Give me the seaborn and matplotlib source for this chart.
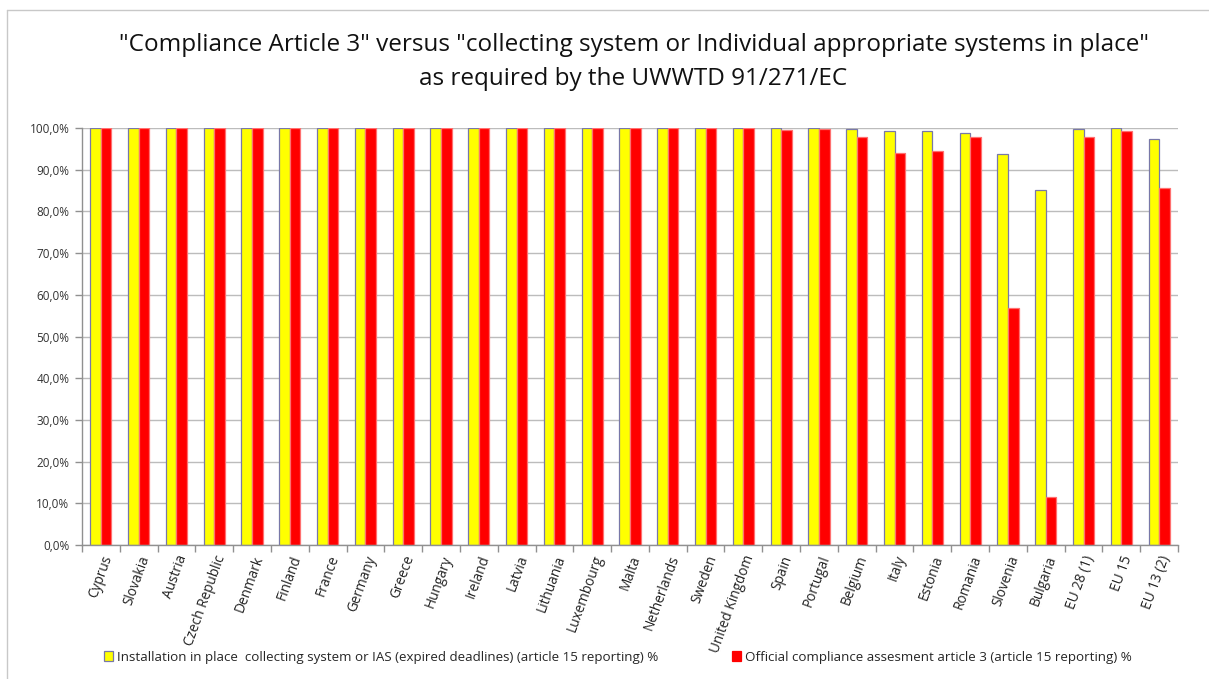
import matplotlib
matplotlib.use("Agg")
import matplotlib.pyplot as plt
from matplotlib.lines import Line2D
from matplotlib.ticker import FuncFormatter, FixedLocator
import seaborn as sns
import pandas as pd
import numpy as np

countries = ["Cyprus", "Slovakia", "Austria", "Czech Republic", "Denmark", "Finland",
             "France", "Germany", "Greece", "Hungary", "Ireland", "Latvia", "Lithuania",
             "Luxembourg", "Malta", "Netherlands", "Sweden", "United Kingdom", "Spain",
             "Portugal", "Belgium", "Italy", "Estonia", "Romania", "Slovenia", "Bulgaria",
             "EU 28 (1)", "EU 15", "EU 13 (2)"]

installation = [100.0, 100.0, 100.0, 100.0, 100.0, 100.0, 100.0, 100.0, 100.0, 100.0,
                100.0, 100.0, 100.0, 100.0, 100.0, 100.0, 100.0, 100.0, 100.0, 100.0,
                99.8, 99.4, 99.2, 98.7, 93.8, 85.2, 99.7, 100.0, 97.4]

compliance = [100.0, 100.0, 100.0, 100.0, 100.0, 100.0, 100.0, 100.0, 100.0, 100.0,
              100.0, 100.0, 100.0, 100.0, 100.0, 100.0, 100.0, 100.0, 99.6, 99.8,
              97.9, 94.0, 94.4, 97.9, 56.8, 11.6, 97.9, 99.2, 85.7]

series_names = ["Installation in place  collecting system or IAS (expired deadlines) (article 15 reporting) %",
                "Official compliance assesment article 3 (article 15 reporting) %"]

title = ('"Compliance Article 3" versus "collecting system or Individual appropriate systems in place"\n'
         'as required by the UWWTD 91/271/EC')

df = pd.DataFrame({"country": countries,
                   series_names[0]: installation,
                   series_names[1]: compliance})
long = df.melt(id_vars="country", var_name="series", value_name="value")

sns.set_theme(style="white")
plt.rcParams["font.family"] = ["Open Sans", "DejaVu Sans"]

W, H = 1209, 679
fig = plt.figure(figsize=(W / 100, H / 100), dpi=100)
ax = fig.add_axes([82 / W, 1 - 545 / H, (1178 - 82) / W, (545 - 128) / H])

palette = {series_names[0]: "#ffff00", series_names[1]: "#ff0000"}
sns.barplot(data=long, x="country", y="value", hue="series", order=countries,
            hue_order=series_names, palette=palette, width=0.56, ax=ax,
            saturation=1, legend=False)

edge_cols = ["#7878a8", "#ff7070"]
for container, ec in zip(ax.containers, edge_cols):
    for bar in container:
        bar.set_edgecolor(ec)
        bar.set_linewidth(0.9)

ax.set_ylim(0, 100)
ax.set_xlim(-0.5, len(countries) - 0.5)
ax.yaxis.set_major_locator(FixedLocator(np.arange(0, 101, 10)))
ax.yaxis.set_major_formatter(FuncFormatter(lambda v, p: f"{v:.1f}%".replace(".", ",")))
ax.grid(axis="y", color="#bcbcbc", linewidth=1.0)
ax.set_axisbelow(True)

ax.set_xlabel("")
ax.set_ylabel("")
ax.set_xticks(range(len(countries)))
ax.set_xticklabels(countries, rotation=70, ha="right", rotation_mode="anchor",
                   fontsize=9.8, color="#222222")
ax.tick_params(axis="x", which="major", length=0, pad=6)
ax.set_xticks(np.arange(-0.5, len(countries), 1.0), minor=True)
ax.tick_params(axis="x", which="minor", length=5, color="#909090", width=1,
               direction="out", bottom=True)
ax.tick_params(axis="y", length=5, color="#909090", width=1, direction="out",
               left=True, labelsize=8.5, labelcolor="#333333", pad=4)

for side in ["top", "right"]:
    ax.spines[side].set_visible(False)
for side in ["left", "bottom"]:
    ax.spines[side].set_color("#909090")
    ax.spines[side].set_linewidth(1.0)

fig.suptitle(title, x=0.524, y=1 - 62 / H, va="center", fontsize=17.5,
             linespacing=1.55, color="#111111", family=["Open Sans", "DejaVu Sans"])

handles = [plt.Rectangle((0, 0), 1, 1, facecolor="#ffff00", edgecolor="#7878a8", linewidth=0.9),
           plt.Rectangle((0, 0), 1, 1, facecolor="#ff0000", edgecolor="#ff0000", linewidth=0.9)]
fig.legend(handles, series_names, loc="center", bbox_to_anchor=(618 / W, 1 - 657 / H),
           ncol=2, frameon=False, fontsize=9.6, handlelength=0.7, handleheight=0.7,
           handletextpad=0.3, columnspacing=5.5)

# chart area frame
frame_col = "#c8c8c8"
fig.add_artist(Line2D([7 / W, 1.0], [1 - 10 / H, 1 - 10 / H], transform=fig.transFigure,
                      color=frame_col, linewidth=1.0))
fig.add_artist(Line2D([7 / W, 7 / W], [1 - 10 / H, 0.0], transform=fig.transFigure,
                      color=frame_col, linewidth=1.0))

fig.savefig("out.png", dpi=100, facecolor="white")
